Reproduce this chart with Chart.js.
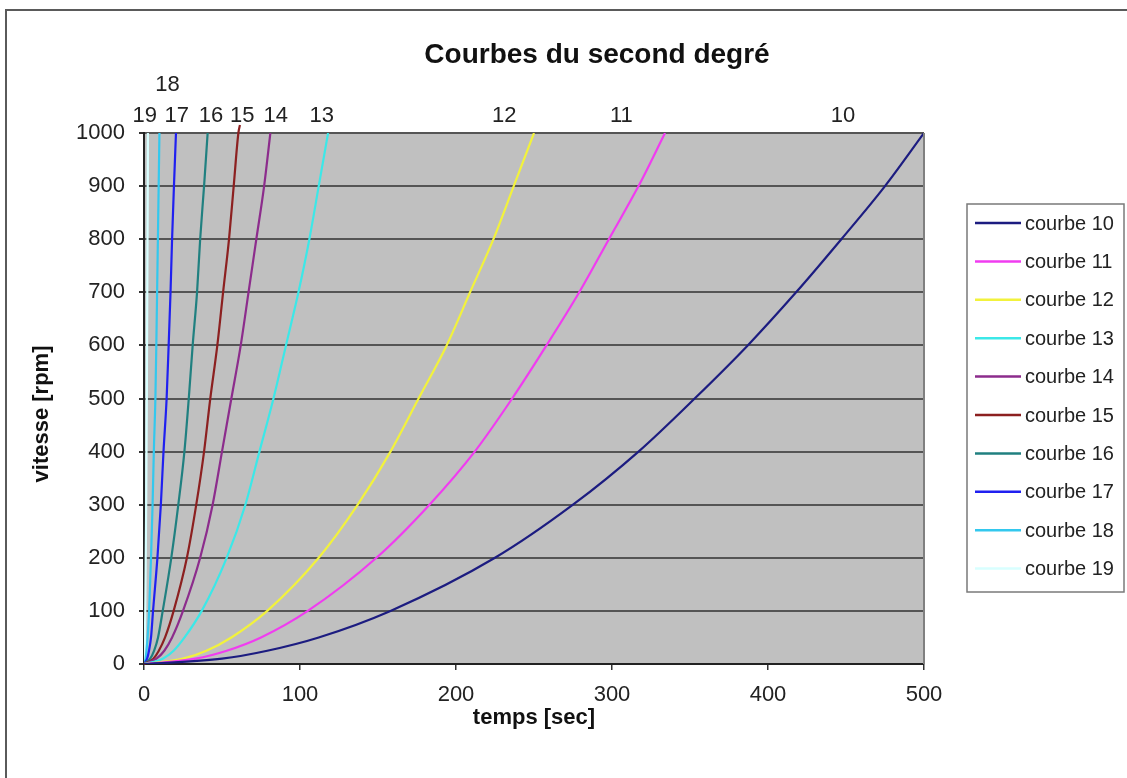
<!DOCTYPE html>
<html lang="fr">
<head>
<meta charset="utf-8">
<title>Courbes du second degré</title>
<script src="https://cdn.jsdelivr.net/npm/chart.js@4.4.1/dist/chart.umd.min.js"></script>
<style>
  html, body { margin: 0; padding: 0; background: #fff; }
  #cadre { position: relative; width: 1127px; height: 778px; overflow: hidden; }
  #bordure { position: absolute; left: 5px; top: 9px; width: 1140px; height: 790px; border: 2px solid #5a5a5a; box-sizing: border-box; }
  #graphe { position: absolute; left: 0; top: 0; }
</style>
</head>
<body>
<div id="cadre">
  <div id="bordure"></div>
  <canvas id="graphe" width="1127" height="778"></canvas>
</div>
<script>
// vitesse [rpm] commune à toutes les courbes
const vitesse = [0, 10, 25, 50, 100, 200, 300, 400, 500, 600, 700, 800, 900, 1000];

// temps [sec] relevés pour chaque courbe, dans l'ordre du tableau vitesse
const temps10 = [0, 50, 79, 112, 158, 225, 275, 317, 353, 387, 418, 447, 475, 500];
const temps11 = [0, 33, 53, 75, 105, 149, 183, 212, 236, 258, 279, 298, 317, 334];
const temps12 = [0, 25, 40, 56, 79, 112, 137, 158, 176, 194, 209, 224, 237, 250];
const temps13 = [0, 12, 19, 26, 37, 53, 65, 74, 83, 91, 99, 106, 112, 118];
const temps14 = [0, 8, 13, 18, 25, 36, 44, 50, 56, 62, 67, 72, 77, 81];
const temps15 = [0, 6, 9.5, 13.5, 19, 27.5, 33.5, 38.5, 42.5, 47, 50.7, 54.5, 57.5, 60.5, 61.5];
const temps16 = [0, 4, 6.5, 9, 12, 17.5, 22, 25.9, 28.7, 31.2, 34, 36, 38.5, 40.8];
const temps17 = [0, 2, 3.2, 4.5, 5.8, 8.6, 10.8, 12.5, 14.5, 15.8, 17, 18, 19.2, 20.5];
const temps18 = [0, 1, 1.6, 2.3, 3.3, 4.5, 5.5, 6.3, 7.3, 7.9, 8.4, 8.9, 9.4, 9.9];
const temps19 = [0, 0.3, 0.4, 0.6, 0.8, 1.1, 1.4, 1.6, 1.8, 1.95, 2.1, 2.25, 2.4, 2.5];

// la courbe 15 dépasse un peu le haut du graphique
const vitesse15 = vitesse.concat([1015]);

const noms = ['courbe 10', 'courbe 11', 'courbe 12', 'courbe 13', 'courbe 14',
              'courbe 15', 'courbe 16', 'courbe 17', 'courbe 18', 'courbe 19'];
const etiquettes = ['10', '11', '12', '13', '14', '15', '16', '17', '18', '19'];

const ticksX = [0, 100, 200, 300, 400, 500];
const ticksY = [0, 100, 200, 300, 400, 500, 600, 700, 800, 900, 1000];

// couleurs des courbes (palette Excel)
const couleurs = ['#1c1c80', '#f03cf0', '#f2f23c', '#3ce8e8', '#8c2c8c',
                  '#8c2020', '#208080', '#2020f0', '#33c8ee', '#d8ffff'];

// emplacement des numéros au-dessus du graphique (en secondes) et rangée
const placeEtiquettes = [448, 306, 231, 114, 84.5, 63, 43, 21, 15, 0.5];
const rangeeEtiquettes = [0, 0, 0, 0, 0, 0, 0, 0, 1, 0];

const POLICE = "'Liberation Sans', Arial, sans-serif";

function points(temps, v) {
    return temps.map((t, i) => ({ x: t, y: v[i] }));
}

const series = [
    points(temps10, vitesse), points(temps11, vitesse), points(temps12, vitesse),
    points(temps13, vitesse), points(temps14, vitesse), points(temps15, vitesse15),
    points(temps16, vitesse), points(temps17, vitesse), points(temps18, vitesse),
    points(temps19, vitesse)
];

const habillage = {
    id: 'habillage',
    beforeDraw(chart) {
        const { ctx, chartArea: a } = chart;
        ctx.save();
        ctx.fillStyle = '#c0c0c0';
        ctx.fillRect(a.left, a.top, a.right - a.left, a.bottom - a.top);
        ctx.restore();
    },
    afterDraw(chart) {
        const { ctx, chartArea: a } = chart;
        const sx = chart.scales.x;
        ctx.save();

        // bord droit de la zone de traçage
        ctx.strokeStyle = '#808080';
        ctx.lineWidth = 2;
        ctx.beginPath();
        ctx.moveTo(a.right, a.top);
        ctx.lineTo(a.right, a.bottom);
        ctx.stroke();

        ctx.fillStyle = '#111';
        ctx.textAlign = 'center';
        ctx.textBaseline = 'middle';

        // titre
        ctx.font = 'bold 28px ' + POLICE;
        ctx.fillText('Courbes du second degré', 597, 55);

        // titres des axes
        ctx.font = 'bold 22px ' + POLICE;
        ctx.fillText('temps [sec]', (a.left + a.right) / 2, 718);
        ctx.save();
        ctx.translate(42, 414);
        ctx.rotate(-Math.PI / 2);
        ctx.fillText('vitesse [rpm]', 0, 0);
        ctx.restore();

        // numéros des courbes
        ctx.font = '22px ' + POLICE;
        ctx.fillStyle = '#222';
        etiquettes.forEach((txt, i) => {
            const x = sx.getPixelForValue(placeEtiquettes[i]);
            const y = a.top - 17 - rangeeEtiquettes[i] * 31;
            ctx.fillText(txt, x, y);
        });

        // légende
        const lx = 967, ly = 204, lw = 157, lh = 388;
        ctx.fillStyle = '#fff';
        ctx.fillRect(lx, ly, lw, lh);
        ctx.strokeStyle = '#7a7a7a';
        ctx.lineWidth = 1.5;
        ctx.strokeRect(lx, ly, lw, lh);
        ctx.font = '20px ' + POLICE;
        ctx.textAlign = 'left';
        noms.forEach((nom, i) => {
            const y = 223 + i * 38.4;
            ctx.strokeStyle = couleurs[i];
            ctx.lineWidth = 2.5;
            ctx.beginPath();
            ctx.moveTo(975, y);
            ctx.lineTo(1021, y);
            ctx.stroke();
            ctx.fillStyle = '#222';
            ctx.fillText(nom, 1025, y + 1);
        });

        ctx.restore();
    }
};

new Chart(document.getElementById('graphe').getContext('2d'), {
    type: 'scatter',
    data: {
        datasets: series.map((pts, i) => ({
            label: noms[i],
            data: pts,
            showLine: true,
            borderColor: couleurs[i],
            backgroundColor: couleurs[i],
            borderWidth: 2.2,
            pointRadius: 0,
            cubicInterpolationMode: 'monotone',
            clip: i === 5 ? false : 0
        }))
    },
    options: {
        responsive: false,
        animation: false,
        layout: { padding: { top: 133, right: 203, left: 0, bottom: 0 } },
        plugins: {
            legend: { display: false },
            title: { display: false },
            tooltip: { enabled: false }
        },
        scales: {
            x: {
                type: 'linear',
                min: 0,
                max: 500,
                afterBuildTicks: s => { s.ticks = ticksX.map(v => ({ value: v })); },
                afterFit: s => { s.height = 114; },
                grid: { drawOnChartArea: false, drawTicks: true, tickLength: 6, tickColor: '#333', lineWidth: 1.5 },
                border: { display: true, color: '#222', width: 2 },
                ticks: { color: '#222', padding: 12, font: { family: POLICE, size: 22 }, callback: v => String(v) }
            },
            y: {
                type: 'linear',
                min: 0,
                max: 1000,
                afterBuildTicks: s => { s.ticks = ticksY.map(v => ({ value: v })); },
                afterFit: s => { s.width = 144; },
                grid: { color: '#555', lineWidth: 2, tickLength: 5, tickColor: '#333' },
                border: { display: true, color: '#222', width: 2 },
                ticks: { color: '#222', padding: 14, font: { family: POLICE, size: 22 }, callback: v => String(v) }
            }
        }
    },
    plugins: [habillage]
});
</script>
</body>
</html>
